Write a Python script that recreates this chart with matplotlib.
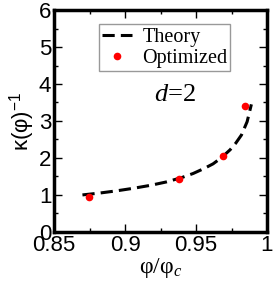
import numpy as np
import matplotlib
matplotlib.use('Agg')
import matplotlib.pyplot as plt
from matplotlib import rc
from matplotlib.ticker import MultipleLocator

# theory curve
phi_theory = [0.870, 0.882, 0.894, 0.906, 0.918, 0.929, 0.940, 0.948,
              0.956, 0.962, 0.968, 0.974, 0.978, 0.982, 0.986, 0.989]
kappa_theory = [1.00, 1.05, 1.11, 1.18, 1.26, 1.35, 1.47, 1.58,
                1.72, 1.84, 2.01, 2.22, 2.40, 2.62, 2.98, 3.45]

# optimized points
phi_opt = [0.8747, 0.9378, 0.969, 0.9847]
kappa_opt = [0.95, 1.42, 2.06, 3.41]

xticks = [0.85, 0.9, 0.95, 1.0]
xticklabels = ['0.85', '0.9', '0.95', '1']
yticks = [0, 1, 2, 3, 4, 5, 6]

rc('mathtext', fontset='custom', rm='Liberation Sans',
   it='Liberation Serif:italic')
rc('font', family='Liberation Sans')

fig = plt.figure(figsize=(2.73, 2.87), dpi=100)
ax = fig.add_axes([0.198, 0.192, 0.780, 0.773])

ax.plot(phi_theory, kappa_theory, color='black', lw=2.2,
        dashes=(4, 2), label='Theory')
ax.plot(phi_opt, kappa_opt, 'o', color='red', ms=5.5, mec='none',
        label='Optimized', zorder=3)

ax.set_xlim(0.85, 1.0)
ax.set_ylim(0, 6)
ax.set_xticks(xticks)
ax.set_xticklabels(xticklabels)
ax.set_yticks(yticks)
ax.xaxis.set_minor_locator(MultipleLocator(0.025))
ax.yaxis.set_minor_locator(MultipleLocator(0.5))
ax.tick_params(which='both', direction='in', top=True, right=True,
               labelsize=16, pad=2)
ax.tick_params(which='major', length=6, width=1)
ax.tick_params(which='minor', length=3, width=1)
for s in ax.spines.values():
    s.set_linewidth(2.5)

ax.set_xlabel(r'φ/φ$_{\mathit{c}}$', fontsize=17, family='Liberation Serif',
              labelpad=0)
ax.set_ylabel(r'κ(φ)$^{-1}$', fontsize=16, labelpad=1)

ax.text(0.935, 3.7, r'$d$=2', fontsize=19, family='Liberation Serif',
        ha='center', va='center')

leg = ax.legend(loc='upper left', bbox_to_anchor=(0.211, 0.935),
                prop={'family': 'Liberation Serif', 'size': 14.5},
                frameon=True, fancybox=False, handlelength=1.5,
                handletextpad=0.5, borderpad=0.15, labelspacing=0.1,
                borderaxespad=0)
leg.get_frame().set_edgecolor('gray')
leg.get_frame().set_linewidth(1)

fig.savefig('out.png', dpi=100)
